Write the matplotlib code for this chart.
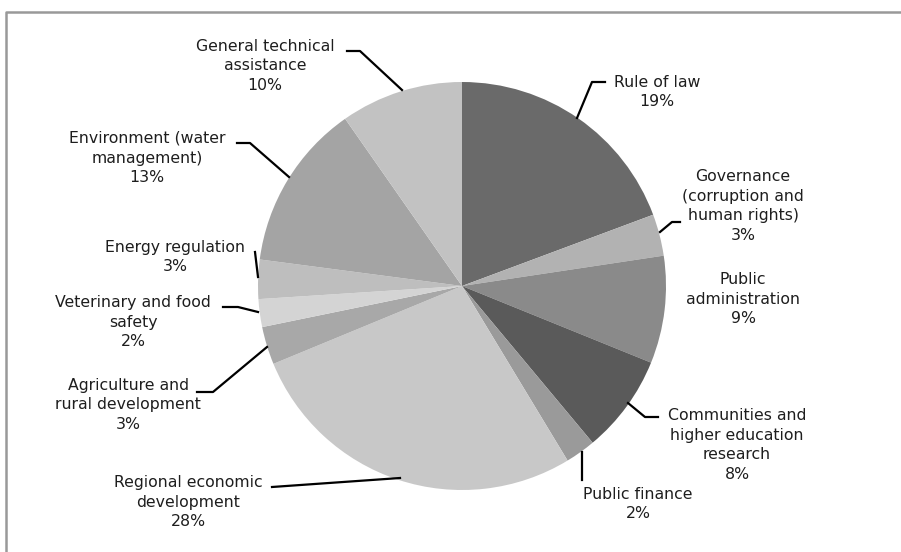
import numpy as np
import matplotlib
matplotlib.use('Agg')
import matplotlib.pyplot as plt

# slice data, clockwise from 12 o'clock
labels = ['Rule of law', 'Governance\n(corruption and\nhuman rights)', 'Public\nadministration',
          'Communities and\nhigher education\nresearch', 'Public finance',
          'Regional economic\ndevelopment', 'Agriculture and\nrural development',
          'Veterinary and food\nsafety', 'Energy regulation',
          'Environment (water\nmanagement)', 'General technical\nassistance']
shares = [19.3, 3.3, 8.5, 7.8, 2.4, 27.4, 3.0, 2.2, 3.1, 13.2, 9.7]
pct_text = ['19%', '3%', '9%', '8%', '2%', '28%', '3%', '2%', '3%', '13%', '10%']
colors = ['#6a6a6a', '#b2b2b2', '#8a8a8a', '#5a5a5a', '#9a9a9a', '#c8c8c8',
          '#a8a8a8', '#d4d4d4', '#bebebe', '#a4a4a4', '#c2c2c2']

# label centre (pixels) and leader line points (pixels)
label_pos = [(657, 92), (743, 206), (743, 299), (737, 445), (638, 504),
             (188, 502), (128, 405), (133, 322), (175, 257), (147, 158), (265, 66)]
leaders = [[(605, 82), (592, 82), (577, 118)],
           [(680, 222), (672, 222), (660, 232)],
           None,
           [(658, 417), (645, 417), (628, 403)],
           [(582, 480), (582, 452)],
           [(272, 487), (400, 478)],
           [(197, 392), (213, 392), (267, 347)],
           [(223, 307), (238, 307), (258, 312)],
           [(255, 252), (258, 277)],
           [(237, 143), (250, 143), (289, 177)],
           [(347, 51), (360, 51), (402, 90)]]

W, H = 901, 552
fig = plt.figure(figsize=(W / 100, H / 100), dpi=100)
ax = fig.add_axes([0, 0, 1, 1])

def fy(y):
    return H - y

ax.pie(shares, colors=colors, startangle=90, counterclock=False,
       center=(462, fy(286)), radius=204, frame=True,
       wedgeprops=dict(linewidth=0))
ax.set_xlim(0, W)
ax.set_ylim(0, H)
ax.set_aspect('equal')
ax.axis('off')

# outer frame (only top and left edges visible)
ax.plot([6, 6, W], [0, fy(12), fy(12)], color='#999999', linewidth=1.8)

for lab, pct, (x, y), ld in zip(labels, pct_text, label_pos, leaders):
    ax.text(x, fy(y), lab + '\n' + pct, ha='center', va='center',
            fontsize=11.3, color='#1e1e1e', linespacing=1.38)
    if ld is not None:
        xs = [p[0] for p in ld]
        ys = [fy(p[1]) for p in ld]
        ax.plot(xs, ys, color='black', linewidth=1.6)

fig.savefig('out.png', dpi=100)
